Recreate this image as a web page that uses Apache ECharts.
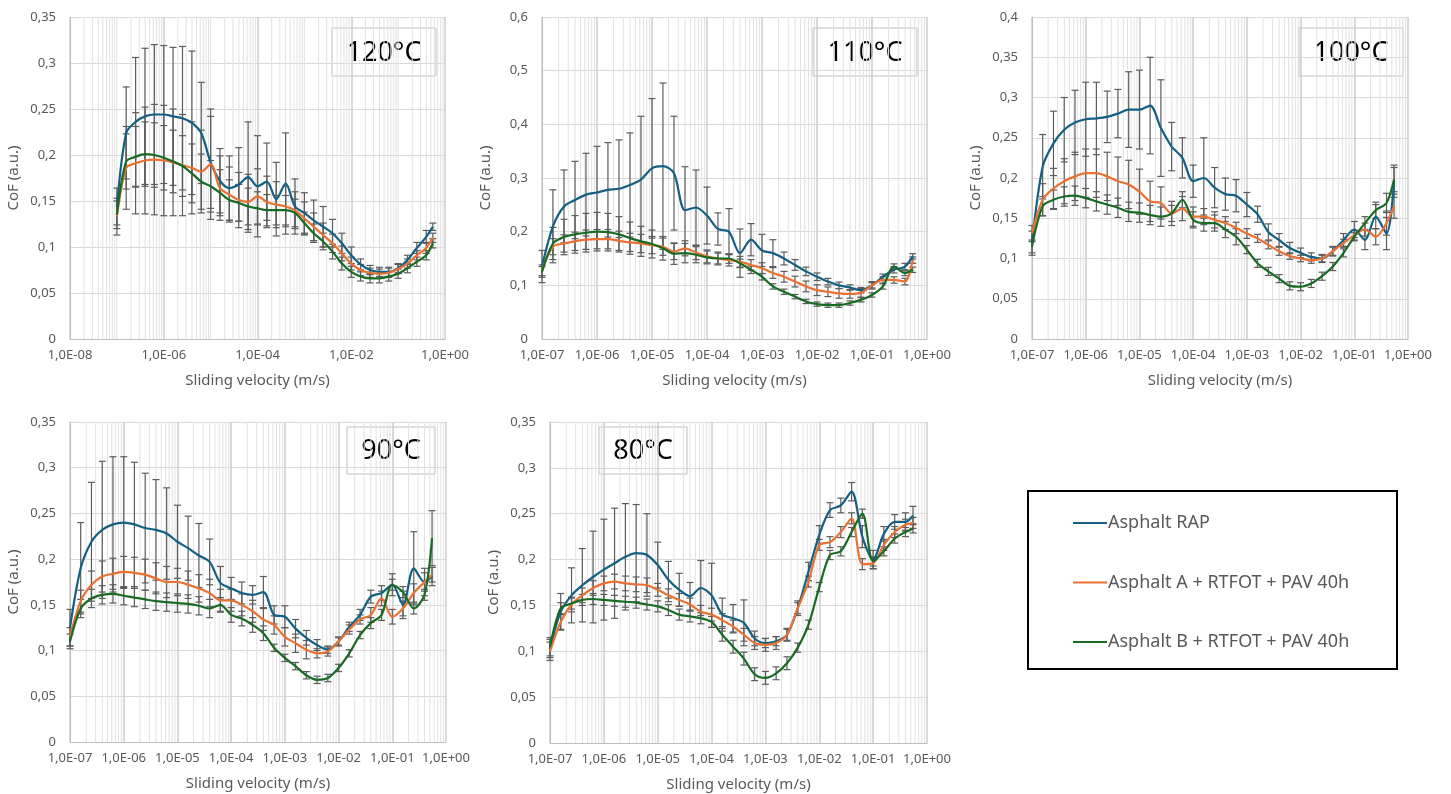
<!DOCTYPE html>
<html>
<head>
<meta charset="utf-8">
<script src="https://cdn.jsdelivr.net/npm/echarts@6/dist/echarts.min.js"></script>
<style>
html, body { margin: 0; padding: 0; background: #fff; }
#main { width: 1451px; height: 794px; }
</style>
</head>
<body>
<div id="main"></div>
<script>
// sliding velocity (m/s), shared by all panels
var velocity = [1e-7, 1.58e-7, 2.51e-7, 3.98e-7, 6.31e-7,
    1e-6, 1.58e-6, 2.51e-6, 3.98e-6, 6.31e-6,
    1e-5, 1.58e-5, 2.51e-5, 3.98e-5, 6.31e-5,
    1e-4, 1.58e-4, 2.51e-4, 3.98e-4, 6.31e-4,
    1e-3, 1.58e-3, 2.51e-3, 3.98e-3, 6.31e-3,
    1e-2, 1.58e-2, 2.51e-2, 3.98e-2, 6.31e-2,
    0.1, 0.158, 0.251, 0.398, 0.55];

var seriesNames = ['Asphalt RAP', 'Asphalt A + RTFOT + PAV 40h', 'Asphalt B + RTFOT + PAV 40h'];
var seriesColors = ['#156082', '#E97132', '#196B24'];

// 120°C
var rap120 = [0.144, 0.224, 0.236, 0.242, 0.244, 0.244, 0.242, 0.240, 0.235, 0.224,
    0.192, 0.172, 0.164, 0.168, 0.176, 0.166, 0.171, 0.152, 0.169, 0.144,
    0.137, 0.129, 0.122, 0.115, 0.104, 0.091, 0.081, 0.075, 0.073, 0.073,
    0.077, 0.086, 0.099, 0.111, 0.122];
var rap120Sd = [0.02, 0.05, 0.07, 0.074, 0.076, 0.075, 0.075, 0.078, 0.078, 0.055,
    0.05, 0.035, 0.035, 0.04, 0.06, 0.055, 0.042, 0.04, 0.055, 0.03,
    0.022, 0.022, 0.022, 0.015, 0.011, 0.009, 0.006, 0.005, 0.005, 0.005,
    0.005, 0.005, 0.006, 0.007, 0.004];
var a120 = [0.133, 0.186, 0.191, 0.194, 0.195, 0.194, 0.192, 0.189, 0.186, 0.182,
    0.19, 0.164, 0.157, 0.151, 0.149, 0.155, 0.149, 0.146, 0.144, 0.14,
    0.131, 0.122, 0.113, 0.104, 0.093, 0.082, 0.075, 0.072, 0.071, 0.072,
    0.076, 0.082, 0.091, 0.099, 0.11];
var a120Sd = [0.02, 0.045, 0.055, 0.058, 0.06, 0.06, 0.058, 0.055, 0.05, 0.045,
    0.06, 0.035, 0.03, 0.03, 0.03, 0.03, 0.028, 0.025, 0.022, 0.02,
    0.018, 0.015, 0.013, 0.01, 0.008, 0.007, 0.006, 0.005, 0.005, 0.005,
    0.005, 0.005, 0.005, 0.006, 0.005];
var b120 = [0.135, 0.193, 0.198, 0.201, 0.200, 0.197, 0.193, 0.188, 0.180, 0.171,
    0.166, 0.159, 0.151, 0.148, 0.144, 0.142, 0.140, 0.140, 0.140, 0.137,
    0.126, 0.115, 0.106, 0.095, 0.082, 0.073, 0.068, 0.066, 0.066, 0.068,
    0.071, 0.077, 0.084, 0.091, 0.104];
var b120Sd = [0.015, 0.03, 0.033, 0.035, 0.035, 0.035, 0.034, 0.033, 0.032, 0.03,
    0.028, 0.025, 0.022, 0.02, 0.02, 0.018, 0.017, 0.016, 0.016, 0.015,
    0.012, 0.01, 0.009, 0.008, 0.007, 0.006, 0.005, 0.005, 0.005, 0.005,
    0.005, 0.005, 0.005, 0.005, 0.005];

// 110°C
var rap110 = [0.135, 0.21, 0.247, 0.259, 0.269, 0.273, 0.278, 0.28, 0.287, 0.297,
    0.318, 0.322, 0.309, 0.24, 0.245, 0.23, 0.205, 0.2, 0.16, 0.185,
    0.165, 0.16, 0.15, 0.138, 0.126, 0.116, 0.107, 0.1, 0.096, 0.091,
    0.1, 0.116, 0.129, 0.135, 0.154];
var rap110Sd = [0.03, 0.068, 0.068, 0.072, 0.077, 0.086, 0.088, 0.091, 0.097, 0.118,
    0.13, 0.155, 0.106, 0.081, 0.07, 0.053, 0.03, 0.043, 0.045, 0.03,
    0.03, 0.025, 0.012, 0.01, 0.008, 0.007, 0.006, 0.006, 0.005, 0.005,
    0.005, 0.005, 0.006, 0.006, 0.005];
var a110 = [0.128, 0.172, 0.178, 0.182, 0.185, 0.186, 0.186, 0.183, 0.18, 0.178,
    0.175, 0.172, 0.163, 0.169, 0.161, 0.154, 0.15, 0.147, 0.144, 0.138,
    0.132, 0.123, 0.116, 0.107, 0.098, 0.091, 0.088, 0.085, 0.084, 0.086,
    0.1, 0.11, 0.11, 0.107, 0.147];
var a110Sd = [0.01, 0.015, 0.016, 0.017, 0.018, 0.018, 0.018, 0.018, 0.017, 0.017,
    0.016, 0.016, 0.015, 0.014, 0.013, 0.012, 0.012, 0.011, 0.01, 0.01,
    0.01, 0.01, 0.01, 0.01, 0.01, 0.01, 0.009, 0.009, 0.008, 0.008,
    0.007, 0.006, 0.006, 0.006, 0.006];
var b110 = [0.125, 0.178, 0.19, 0.195, 0.198, 0.2, 0.199, 0.195, 0.188, 0.182,
    0.177, 0.169, 0.159, 0.16, 0.157, 0.152, 0.15, 0.15, 0.141, 0.129,
    0.116, 0.098, 0.088, 0.079, 0.07, 0.065, 0.063, 0.063, 0.067, 0.073,
    0.082, 0.098, 0.135, 0.123, 0.129];
var b110Sd = [0.01, 0.03, 0.033, 0.035, 0.036, 0.036, 0.035, 0.033, 0.03, 0.028,
    0.026, 0.022, 0.02, 0.018, 0.015, 0.012, 0.01, 0.009, 0.008, 0.007,
    0.006, 0.005, 0.005, 0.004, 0.004, 0.004, 0.004, 0.004, 0.004, 0.004,
    0.004, 0.005, 0.005, 0.005, 0.005];

// 100°C
var rap100 = [0.119, 0.214, 0.243, 0.26, 0.269, 0.273, 0.274, 0.276, 0.28, 0.285,
    0.285, 0.29, 0.262, 0.239, 0.225, 0.196, 0.2, 0.188, 0.18, 0.178,
    0.167, 0.155, 0.133, 0.123, 0.113, 0.107, 0.102, 0.1, 0.109, 0.123,
    0.136, 0.123, 0.152, 0.131, 0.196];
var rap100Sd = [0.015, 0.04, 0.04, 0.04, 0.04, 0.046, 0.045, 0.032, 0.03, 0.047,
    0.049, 0.06, 0.06, 0.03, 0.025, 0.02, 0.05, 0.025, 0.02, 0.02,
    0.015, 0.01, 0.01, 0.008, 0.007, 0.006, 0.005, 0.005, 0.006, 0.008,
    0.01, 0.012, 0.015, 0.02, 0.02];
var a100 = [0.131, 0.173, 0.187, 0.196, 0.202, 0.206, 0.206, 0.202, 0.196, 0.192,
    0.183, 0.171, 0.169, 0.156, 0.162, 0.152, 0.152, 0.148, 0.144, 0.138,
    0.131, 0.125, 0.117, 0.109, 0.103, 0.1, 0.098, 0.1, 0.109, 0.119,
    0.129, 0.136, 0.127, 0.144, 0.165];
var a100Sd = [0.01, 0.02, 0.025, 0.028, 0.03, 0.03, 0.03, 0.03, 0.03, 0.03,
    0.028, 0.025, 0.02, 0.015, 0.015, 0.012, 0.01, 0.01, 0.008, 0.007,
    0.006, 0.005, 0.005, 0.005, 0.004, 0.004, 0.004, 0.004, 0.005, 0.005,
    0.006, 0.008, 0.01, 0.015, 0.015];
var b100 = [0.115, 0.165, 0.173, 0.177, 0.178, 0.175, 0.171, 0.167, 0.163, 0.158,
    0.157, 0.154, 0.152, 0.156, 0.173, 0.148, 0.144, 0.144, 0.136, 0.127,
    0.111, 0.094, 0.084, 0.075, 0.066, 0.065, 0.069, 0.078, 0.09, 0.107,
    0.127, 0.144, 0.16, 0.169, 0.198];
var b100Sd = [0.008, 0.012, 0.012, 0.012, 0.012, 0.012, 0.012, 0.012, 0.012, 0.012,
    0.012, 0.012, 0.012, 0.01, 0.01, 0.01, 0.01, 0.01, 0.01, 0.01,
    0.005, 0.005, 0.005, 0.005, 0.005, 0.005, 0.005, 0.005, 0.005, 0.005,
    0.005, 0.008, 0.01, 0.012, 0.015];

// 90°C
var rap90 = [0.125, 0.19, 0.219, 0.232, 0.238, 0.24, 0.238, 0.234, 0.232, 0.228,
    0.219, 0.212, 0.204, 0.197, 0.174, 0.168, 0.163, 0.161, 0.164, 0.139,
    0.137, 0.124, 0.114, 0.106, 0.101, 0.11, 0.126, 0.139, 0.159, 0.163,
    0.172, 0.15, 0.19, 0.175, 0.181];
var rap90Sd = [0.02, 0.05, 0.065, 0.075, 0.074, 0.072, 0.068, 0.06, 0.055, 0.05,
    0.04, 0.035, 0.035, 0.025, 0.018, 0.012, 0.012, 0.01, 0.017, 0.01,
    0.012, 0.01, 0.008, 0.006, 0.004, 0.004, 0.005, 0.006, 0.007, 0.008,
    0.012, 0.015, 0.04, 0.015, 0.01];
var a90 = [0.115, 0.154, 0.172, 0.181, 0.184, 0.186, 0.185, 0.183, 0.179, 0.175,
    0.175, 0.172, 0.168, 0.163, 0.155, 0.155, 0.15, 0.143, 0.134, 0.128,
    0.115, 0.108, 0.101, 0.097, 0.099, 0.11, 0.123, 0.134, 0.139, 0.157,
    0.137, 0.146, 0.163, 0.175, 0.183];
var a90Sd = [0.01, 0.012, 0.015, 0.017, 0.017, 0.017, 0.017, 0.017, 0.017, 0.017,
    0.015, 0.015, 0.015, 0.015, 0.012, 0.012, 0.012, 0.012, 0.012, 0.01,
    0.01, 0.01, 0.01, 0.005, 0.005, 0.005, 0.005, 0.005, 0.008, 0.008,
    0.008, 0.008, 0.01, 0.01, 0.008];
var b90 = [0.11, 0.146, 0.157, 0.161, 0.162, 0.16, 0.158, 0.156, 0.154, 0.153,
    0.152, 0.151, 0.149, 0.146, 0.15, 0.139, 0.135, 0.128, 0.119, 0.103,
    0.092, 0.083, 0.073, 0.068, 0.07, 0.081, 0.097, 0.117, 0.13, 0.139,
    0.172, 0.164, 0.146, 0.161, 0.223];
var b90Sd = [0.008, 0.01, 0.01, 0.01, 0.01, 0.01, 0.01, 0.01, 0.01, 0.01,
    0.01, 0.01, 0.01, 0.01, 0.008, 0.008, 0.008, 0.008, 0.008, 0.004,
    0.004, 0.004, 0.004, 0.004, 0.004, 0.004, 0.004, 0.004, 0.006, 0.006,
    0.006, 0.006, 0.006, 0.006, 0.03];

// 80°C
var rap80 = [0.103, 0.143, 0.161, 0.172, 0.181, 0.189, 0.196, 0.203, 0.207, 0.205,
    0.194, 0.178, 0.167, 0.16, 0.169, 0.161, 0.14, 0.136, 0.131, 0.114,
    0.109, 0.111, 0.118, 0.147, 0.187, 0.227, 0.254, 0.259, 0.274, 0.225,
    0.2, 0.228, 0.241, 0.241, 0.248];
var rap80Sd = [0.01, 0.02, 0.03, 0.04, 0.05, 0.055, 0.06, 0.058, 0.053, 0.045,
    0.025, 0.02, 0.018, 0.015, 0.03, 0.035, 0.018, 0.015, 0.025, 0.008,
    0.005, 0.005, 0.006, 0.008, 0.01, 0.01, 0.008, 0.008, 0.01, 0.012,
    0.01, 0.008, 0.008, 0.01, 0.01];
var a80 = [0.1, 0.132, 0.151, 0.161, 0.169, 0.174, 0.176, 0.174, 0.173, 0.172,
    0.167, 0.161, 0.156, 0.151, 0.143, 0.14, 0.134, 0.127, 0.118, 0.109,
    0.107, 0.109, 0.118, 0.147, 0.176, 0.216, 0.219, 0.23, 0.245, 0.195,
    0.196, 0.216, 0.23, 0.238, 0.24];
var a80Sd = [0.01, 0.008, 0.008, 0.008, 0.008, 0.008, 0.008, 0.008, 0.008, 0.008,
    0.007, 0.007, 0.007, 0.007, 0.007, 0.007, 0.007, 0.007, 0.007, 0.007,
    0.007, 0.007, 0.007, 0.006, 0.006, 0.006, 0.006, 0.006, 0.006, 0.006,
    0.006, 0.006, 0.006, 0.006, 0.006];
var b80 = [0.105, 0.147, 0.152, 0.156, 0.157, 0.156, 0.155, 0.154, 0.153, 0.151,
    0.149, 0.145, 0.14, 0.138, 0.136, 0.132, 0.118, 0.105, 0.092, 0.075,
    0.071, 0.076, 0.087, 0.104, 0.129, 0.17, 0.205, 0.209, 0.23, 0.25,
    0.198, 0.209, 0.223, 0.23, 0.234];
var b80Sd = [0.01, 0.006, 0.006, 0.006, 0.006, 0.006, 0.006, 0.006, 0.006, 0.006,
    0.006, 0.006, 0.006, 0.006, 0.006, 0.006, 0.007, 0.007, 0.007, 0.007,
    0.007, 0.007, 0.007, 0.005, 0.005, 0.005, 0.005, 0.005, 0.005, 0.005,
    0.005, 0.005, 0.005, 0.005, 0.005];

var fontFamily = '"Noto Sans", "Liberation Sans", Arial, sans-serif';
var textGrey = '#595959';

// one entry per small chart
var panels = [
    {label: '120°C', grid: {left: 70, top: 17, width: 375, height: 322}, xMin: 1e-8, xStep: 2,
        yMax: 0.35, yStep: 0.05, box: [332, 28, 104, 48],
        means: [rap120, a120, b120], sds: [rap120Sd, a120Sd, b120Sd]},
    {label: '110°C', grid: {left: 542, top: 17, width: 385, height: 322}, xMin: 1e-7, xStep: 1,
        yMax: 0.6, yStep: 0.1, box: [813, 28, 104, 48],
        means: [rap110, a110, b110], sds: [rap110Sd, a110Sd, b110Sd]},
    {label: '100°C', grid: {left: 1032, top: 17, width: 376, height: 322}, xMin: 1e-7, xStep: 1,
        yMax: 0.4, yStep: 0.05, box: [1299, 28, 104, 48],
        means: [rap100, a100, b100], sds: [rap100Sd, a100Sd, b100Sd]},
    {label: '90°C', grid: {left: 70, top: 422, width: 376, height: 320}, xMin: 1e-7, xStep: 1,
        yMax: 0.35, yStep: 0.05, box: [347, 427, 88, 47],
        means: [rap90, a90, b90], sds: [rap90Sd, a90Sd, b90Sd]},
    {label: '80°C', grid: {left: 550, top: 422, width: 377, height: 321}, xMin: 1e-7, xStep: 1,
        yMax: 0.35, yStep: 0.05, box: [599, 427, 88, 47],
        means: [rap80, a80, b80], sds: [rap80Sd, a80Sd, b80Sd]}
];

function fmtVelocity(v) {
    var e = Math.round(Math.log(v) / Math.LN10);
    var a = Math.abs(e);
    return '1,0E' + (e < 0 ? '-' : '+') + (a < 10 ? '0' : '') + a;
}

function fmtCof(v) {
    if (v === 0) return '0';
    return String(+v.toFixed(3)).replace('.', ',');
}

// vertical error bar with caps
function renderErrorBar(params, api) {
    var x = api.value(0), m = api.value(1), s = api.value(2);
    var top = api.coord([x, m + s]);
    var bot = api.coord([x, m - s]);
    var w = 3.5;
    var style = {stroke: '#5c5c5c', lineWidth: 1.2};
    return {
        type: 'group',
        children: [
            {type: 'line', shape: {x1: top[0], y1: top[1], x2: bot[0], y2: bot[1]}, style: style},
            {type: 'line', shape: {x1: top[0] - w, y1: top[1], x2: top[0] + w, y2: top[1]}, style: style},
            {type: 'line', shape: {x1: bot[0] - w, y1: bot[1], x2: bot[0] + w, y2: bot[1]}, style: style}
        ]
    };
}

// light grid lines between the labelled decades
function renderMinorGrid(params, api) {
    var p = api.coord([api.value(0), 0]);
    var cs = params.coordSys;
    return {
        type: 'line',
        shape: {x1: p[0], y1: cs.y, x2: p[0], y2: cs.y + cs.height},
        style: {stroke: '#e2e2e2', lineWidth: 1},
        silent: true
    };
}

var option = {
    animation: false,
    backgroundColor: '#fff',
    textStyle: {fontFamily: fontFamily},
    grid: [], xAxis: [], yAxis: [], series: [], graphic: [],
    legend: {
        data: seriesNames,
        orient: 'vertical',
        left: 1073, top: 514,
        icon: 'rect',
        itemWidth: 34, itemHeight: 2, itemGap: 41.5,
        padding: 0,
        selectedMode: false,
        textStyle: {color: textGrey, fontSize: 18, fontFamily: fontFamily, padding: [0, 0, 0, -4]}
    }
};

for (var p = 0; p < panels.length; p++) {
    var cfg = panels[p];
    option.grid.push(cfg.grid);

    option.xAxis.push({
        gridIndex: p, type: 'log', logBase: 10,
        min: cfg.xMin, max: 1, interval: cfg.xStep,
        name: 'Sliding velocity (m/s)', nameLocation: 'middle', nameGap: 34,
        nameTextStyle: {color: textGrey, fontSize: 15},
        axisLine: {show: true, onZero: false, lineStyle: {color: '#bfbfbf'}},
        axisTick: {show: false},
        axisLabel: {color: textGrey, fontSize: 13, margin: 10, formatter: fmtVelocity},
        splitLine: {show: true, lineStyle: {color: '#cccccc', width: 1.5}}
    });
    option.yAxis.push({
        gridIndex: p, type: 'value',
        min: 0, max: cfg.yMax, interval: cfg.yStep,
        name: 'CoF (a.u.)', nameLocation: 'middle', nameGap: 49,
        nameTextStyle: {color: textGrey, fontSize: 15},
        axisLine: {show: true, lineStyle: {color: '#bfbfbf'}},
        axisTick: {show: false},
        axisLabel: {color: textGrey, fontSize: 13, margin: 14, formatter: fmtCof},
        splitLine: {show: true, lineStyle: {color: '#d9d9d9'}}
    });

    // minor grid positions: 2..9 x 10^e, plus unlabelled decades
    var e0 = Math.round(Math.log(cfg.xMin) / Math.LN10);
    var minor = [];
    for (var e = e0; e < 0; e++) {
        for (var m = 1; m <= 9; m++) {
            if (m === 1 && (e - e0) % cfg.xStep === 0) continue;
            minor.push([m * Math.pow(10, e), 0]);
        }
    }
    option.series.push({
        type: 'custom', name: 'minorGrid' + p, xAxisIndex: p, yAxisIndex: p,
        renderItem: renderMinorGrid, data: minor, encode: {x: 0, y: 1},
        silent: true, z: 0
    });

    for (var s = 0; s < 3; s++) {
        var mean = cfg.means[s], sd = cfg.sds[s];
        var bars = [], line = [];
        for (var i = 0; i < velocity.length; i++) {
            bars.push([velocity[i], mean[i], sd[i]]);
            line.push([velocity[i], mean[i]]);
        }
        option.series.push({
            type: 'custom', name: 'err' + p + '_' + s, xAxisIndex: p, yAxisIndex: p,
            renderItem: renderErrorBar, data: bars, encode: {x: 0, y: 1},
            silent: true, z: 1
        });
        option.series.push({
            type: 'line', name: seriesNames[s], xAxisIndex: p, yAxisIndex: p,
            data: line, symbol: 'none', smooth: 0.3,
            lineStyle: {width: 2.2, color: seriesColors[s]},
            itemStyle: {color: seriesColors[s]},
            z: 3
        });
    }

    // temperature tag
    option.graphic.push({
        type: 'group', z: 100,
        children: [
            {type: 'rect', shape: {x: cfg.box[0], y: cfg.box[1], width: cfg.box[2], height: cfg.box[3]},
                style: {fill: '#fff', stroke: '#bfbfbf', lineWidth: 1}},
            {type: 'text', x: cfg.box[0] + cfg.box[2] / 2, y: cfg.box[1] + cfg.box[3] / 2 + 1,
                style: {text: cfg.label, fill: '#000', stroke: null, lineWidth: 0,
                    font: '27px "Noto Sans", "Liberation Sans", Arial, sans-serif',
                    align: 'center', verticalAlign: 'middle'}}
        ]
    });
}

// legend frame
option.graphic.push({
    type: 'rect', z: 0,
    shape: {x: 1028, y: 491, width: 369, height: 178},
    style: {fill: 'none', stroke: '#000', lineWidth: 2}
});

var chart = echarts.init(document.getElementById('main'));
chart.setOption(option);
</script>
</body>
</html>
